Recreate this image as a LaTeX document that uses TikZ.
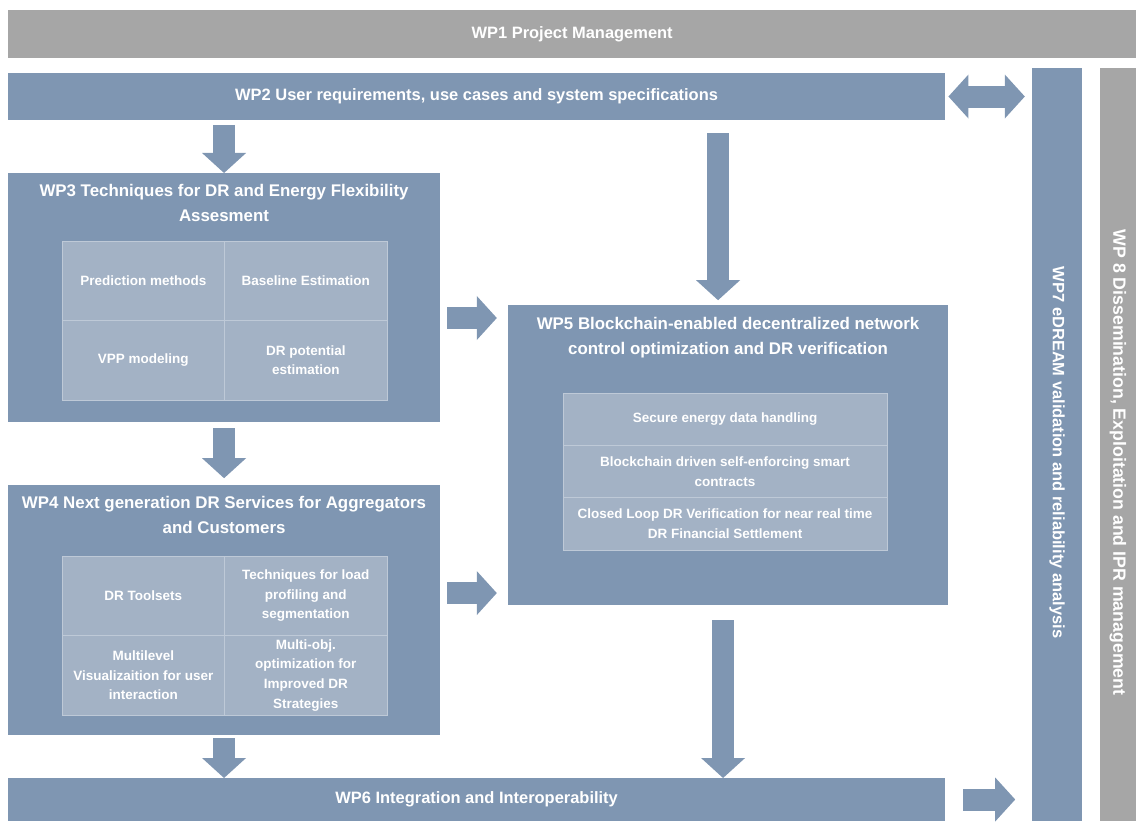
\documentclass[tikz,border=0pt]{standalone}
\usepackage{fontspec}
\setmainfont{Liberation Sans}
\usetikzlibrary{arrows.meta,calc,positioning}
\definecolor{wpblue}{RGB}{127,150,178}
\definecolor{wpcell}{RGB}{163,178,197}
\definecolor{wpgrey}{RGB}{166,166,166}
\definecolor{wpline}{RGB}{190,201,215}
\tikzset{
  wpbar/.style={fill=wpblue,text=white,inner sep=0pt,outer sep=0pt,anchor=north west,
    font=\bfseries\fontsize{11.7}{14}\selectfont},
  wplabel/.style={text=white,inner sep=0pt,font=\bfseries\fontsize{11.7}{14}\selectfont},
  wpbox/.style={fill=wpblue,inner sep=0pt,outer sep=0pt,anchor=north west},
  wptitle/.style={text=white,inner sep=0pt,align=center,anchor=north,
    font=\bfseries\fontsize{12}{17.5}\selectfont},
  wpcellbox/.style={fill=wpcell,draw=wpline,line width=0.6pt,text=white,inner sep=0pt,
    outer sep=0pt,align=center,font=\bfseries\fontsize{9.6}{14}\selectfont},
  cellq/.style={wpcellbox,minimum width=4.0625cm,minimum height=1.9875cm},
  cellrow/.style={wpcellbox,minimum width=8.1cm,minimum height=1.3075cm},
  blockarrow/.style={draw=wpblue,line width=0.55cm,
    -{Triangle[width=1.1cm,length=0.5cm,line width=0pt]}},
}
\begin{document}
\begin{tikzpicture}[x=0.025cm,y=-0.025cm]
\useasboundingbox (0,0) rectangle (1136,821);
% bars
\node[wpbar,fill=wpgrey,minimum width=28.2cm,minimum height=1.2cm] (wp1) at (8,10) {WP1 Project Management};
\node[wpbar,minimum width=23.425cm,minimum height=1.175cm] (wp2) at (8,73) {WP2 User requirements, use cases and system specifications};
\node[wpbar,minimum width=23.425cm,minimum height=1.075cm] (wp6) at (8,778) {WP6 Integration and Interoperability};
\node[wpbox,minimum width=1.25cm,minimum height=18.825cm] (wp7) at (1032,68) {};
\node[wplabel,rotate=-90] (wp7text) at ($(wp7)+(0,8)$) {WP7 eDREAM validation and reliability analysis};
\node[wpbox,fill=wpgrey,minimum width=0.9cm,minimum height=18.825cm] (wp8) at (1100,68) {};
\node[wplabel,rotate=-90,font=\bfseries\fontsize{12.6}{14}\selectfont] (wp8text) at ($(wp8)+(0,18)$) {WP 8 Dissemination, Exploitation and IPR management};

% WP3
\node[wpbox,minimum width=10.8cm,minimum height=6.225cm] (wp3) at (8,173) {};
\node[wptitle] (wp3title) at ($(wp3.north)+(0,11)$) {WP3 Techniques for DR and Energy Flexibility\\Assesment};
\node[cellq,anchor=north west] (wp3a) at (62,241) {Prediction methods};
\node[cellq,right=0pt of wp3a] (wp3b) {Baseline Estimation};
\node[cellq,below=0pt of wp3a] (wp3c) {VPP modeling};
\node[cellq,right=0pt of wp3c] (wp3d) {DR potential\\estimation};

% WP4
\node[wpbox,minimum width=10.8cm,minimum height=6.25cm] (wp4) at (8,485) {};
\node[wptitle] (wp4title) at ($(wp4.north)+(0,11)$) {WP4 Next generation DR Services for Aggregators\\and Customers};
\node[cellq,anchor=north west] (wp4a) at (62,556) {DR Toolsets};
\node[cellq,right=0pt of wp4a] (wp4b) {Techniques for load\\profiling and\\segmentation};
\node[cellq,below=0pt of wp4a] (wp4c) {Multilevel\\Visualizaition for user\\interaction};
\node[cellq,right=0pt of wp4c] (wp4d) {Multi-obj.\\optimization for\\Improved DR\\Strategies};

% WP5
\node[wpbox,minimum width=11cm,minimum height=7.5cm] (wp5) at (508,305) {};
\node[wptitle] (wp5title) at ($(wp5.north)+(0,12)$) {WP5 Blockchain-enabled decentralized network\\control optimization and DR verification};
\node[cellrow,anchor=north west] (wp5a) at (563,393) {Secure energy data handling};
\node[cellrow,below=0pt of wp5a] (wp5b) {Blockchain driven self-enforcing smart\\contracts};
\node[cellrow,below=0pt of wp5b] (wp5c) {Closed Loop DR Verification for near real time\\DR Financial Settlement};

% flows
\draw[blockarrow,shorten <=0.12cm] (wp2.south -| wp3.north) -- (wp3.north);
\draw[blockarrow,shorten <=0.33cm,shorten >=0.12cm] ($(wp2.south -| wp5.north)+(-10,0)$) -- ($(wp5.north)+(-10,0)$);
\draw[blockarrow,shorten <=0.15cm,shorten >=0.17cm] (wp3.south) -- (wp4.north);
\draw[blockarrow,shorten <=0.08cm] (wp4.south) -- (wp4.south |- wp6.north);
\draw[blockarrow,shorten <=0.38cm] ($(wp5.south)+(-5,0)$) -- ($(wp5.south |- wp6.north)+(-5,0)$);
\draw[blockarrow,shorten <=0.18cm,shorten >=0.28cm] ($(wp3.east |- wp5.north)+(0,13)$) -- ($(wp5.north west)+(0,13)$);
\draw[blockarrow,shorten <=0.18cm,shorten >=0.28cm] ($(wp4.east |- wp5.south)+(0,-12)$) -- ($(wp5.south west)+(0,-12)$);
\draw[blockarrow,shorten <=0.45cm,shorten >=0.42cm] (wp6.east) -- (wp6.east -| wp7.west);
\draw[blockarrow,{Triangle[width=1.1cm,length=0.5cm,line width=0pt]}-{Triangle[width=1.1cm,length=0.5cm,line width=0pt]},
  shorten <=0.08cm,shorten >=0.18cm] (wp2.east) -- (wp2.east -| wp7.west);
\end{tikzpicture}
\end{document}
